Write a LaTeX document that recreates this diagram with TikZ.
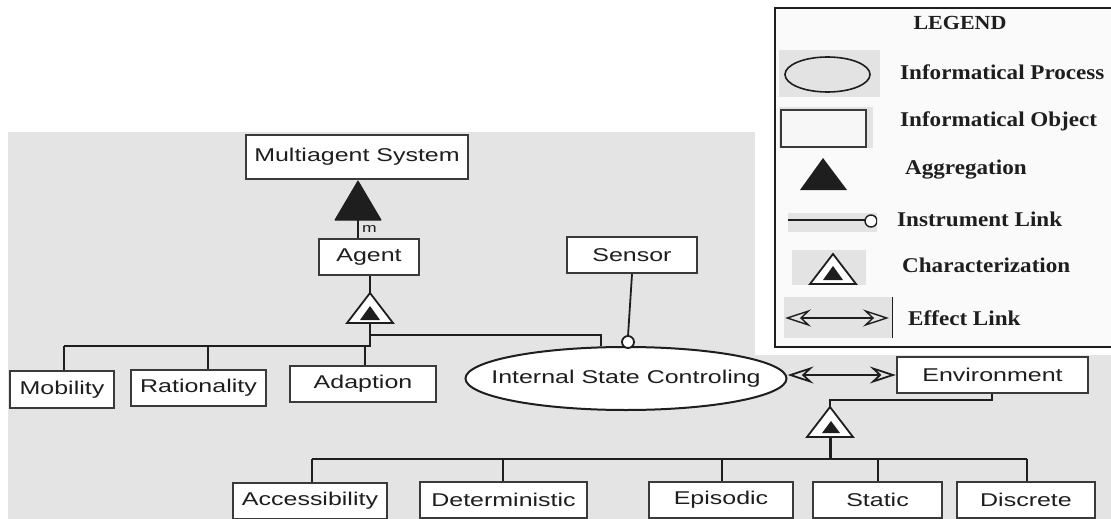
\documentclass[tikz,border=0pt]{standalone}
\usepackage{fontspec}
\usetikzlibrary{shapes.geometric,arrows.meta,calc}
\newfontfamily\mainf[FakeStretch=1.35]{Liberation Sans}
\newfontfamily\legf[FakeStretch=1.1]{Liberation Serif}
\definecolor{panel}{HTML}{E4E4E4}
\definecolor{lbg}{HTML}{E3E3E3}
\definecolor{ink}{HTML}{1E1E1E}
\definecolor{edgec}{HTML}{3A3A3A}
\begin{document}
\begin{tikzpicture}[x=1pt,y=-1pt,
  obj/.style={draw=edgec,line width=2.4pt,fill=white,inner sep=0pt,minimum height=36pt,
    font=\mainf\fontsize{18.5}{20}\selectfont,text=ink},
  proc/.style={ellipse,draw=ink,line width=2pt,fill=white,inner sep=0pt},
  proctext/.style={font=\mainf\fontsize{18.5}{20}\selectfont,text=ink,inner sep=0pt},
  link/.style={draw=ink,line width=1.8pt},
  aggr/.style={fill=ink,draw=ink,line width=1pt,line join=round},
  charo/.style={fill=white,draw=ink,line width=1.8pt,line join=miter},
  legtext/.style={anchor=west,font=\legf\bfseries\fontsize{21}{23}\selectfont,text=ink,inner sep=0pt},
  effect/.style={draw=ink,line width=1.8pt,{Stealth[open,length=26pt,width=17pt,inset=9pt]}-{Stealth[open,length=26pt,width=17pt,inset=9pt]}}
]
\useasboundingbox (0,0) rectangle (1111,519);
% background panel
\fill[panel] (8,132) rectangle (1111,519);
\fill[white] (755,0) rectangle (1111,355);

% ---------------- objects
\node[obj,minimum width=222pt,minimum height=44pt] (mas) at (357,157) {Multiagent System};
\node[obj,minimum width=100pt] (agent) at (369,257) {Agent};
\node[obj,minimum width=130pt] (sensor) at (632,255) {Sensor};
\node[obj,minimum width=104pt,minimum height=37pt] (mob) at (62,389.5) {Mobility};
\node[obj,minimum width=135pt] (rat) at (198.5,388) {Rationality};
\node[obj,minimum width=146pt] (adp) at (363,384) {Adaption};
\node[obj,minimum width=191pt] (env) at (992.5,375) {Environment};
\node[obj,minimum width=154pt] (acc) at (310,501) {Accessibility};
\node[obj,minimum width=167pt] (det) at (503.5,500) {Deterministic};
\node[obj,minimum width=144pt] (epi) at (721,500) {Episodic};
\node[obj,minimum width=129pt] (sta) at (877.5,500) {Static};
\node[obj,minimum width=138pt] (dis) at (1026,500) {Discrete};
\node[proc,minimum width=321pt,minimum height=63pt] (ell) at (626,378.5) {};
\node[proctext] (elltext) at (ell.center) {Internal State Controling};

% ---------------- aggregation: Multiagent System -- Agent
\coordinate (ag-top) at (358,181);
\coordinate (ag-base) at (358,220);
\draw[aggr] (ag-top) -- (335,220) -- (381,220) -- cycle;
\draw[link] (ag-base) -- (agent.north -| ag-base);
\node[font=\mainf\fontsize{13}{13}\selectfont,text=ink,anchor=west,inner sep=0pt] (mlab) at (362,229) {m};

% ---------------- characterization of Agent
\coordinate (c1-top) at (370,293);
\coordinate (c1-base) at (370,323);
\draw[link] (agent.south -| c1-top) -- (c1-top);
\draw[charo] (c1-top) -- (347,323) -- (393,323) -- cycle;
\fill[ink] (370,306) -- (360,320) -- (380,320) -- cycle;
\coordinate (j1) at (370,335);
\coordinate (j2) at (370,346);
\draw[link] (c1-base) -- (j1) -| ($(ell.north)+(-25,0)$);
\draw[link] (j1) -- (j2) -- (64,346);
\draw[link] (64,346) -- (mob.north -| 64,0);
\draw[link] (208,346) -- (rat.north -| 208,0);
\draw[link] (365,346) -- (adp.north -| 365,0);

% ---------------- instrument link Sensor -> process
\coordinate (ic) at (628,342);
\draw[link] (sensor.south) -- (628,336);
\draw[draw=ink,line width=1.8pt,fill=white] (ic) circle (6pt);

% ---------------- effect link
\draw[effect] (ell.east |- env.west) -- (env.west);

% ---------------- characterization of Environment
\coordinate (c2-top) at (830,407);
\coordinate (c2-base) at (830,437);
\draw[link] (env.south -| 992,0) -- (992,400) -| (c2-top);
\draw[charo] (c2-top) -- (807,437) -- (853,437) -- cycle;
\fill[ink] (831,421) -- (822,433) -- (840,433) -- cycle;
\coordinate (j3) at (830,459);
\draw[draw=ink,line width=3pt] (c2-base) -- (j3);
\draw[link] (312,459) -- (1027,459);
\draw[link] (312,459) -- (acc.north -| 312,0);
\draw[link] (503,459) -- (det.north -| 503,0);
\draw[link] (722,459) -- (epi.north -| 722,0);
\draw[link] (878,459) -- (sta.north -| 878,0);
\draw[link] (1027,459) -- (dis.north -| 1027,0);

% ---------------- legend
\draw[draw=ink,line width=1.4pt,fill=white!98!black] (775,8) rectangle (1113,347);
\node[font=\legf\bfseries\fontsize{20}{22}\selectfont,text=ink,inner sep=0pt] (lgt) at (960,23) {LEGEND};
% process
\fill[lbg] (779,50) rectangle (880,97);
\draw[draw=ink,line width=1.6pt] (827.5,74.5) ellipse (42.5pt and 17.5pt);
\node[legtext] (l1) at (900,72) {Informatical Process};
% object
\fill[lbg] (779,107) rectangle (873,148);
\draw[draw=edgec,line width=2.2pt,fill=white!97!black] (781,110) rectangle (866,147);
\node[legtext] (l2) at (900,121) {Informatical Object};
% aggregation
\fill[ink] (823,158) -- (800,190) -- (847,190) -- cycle;
\node[legtext] (l3) at (905,170) {Aggregation};
% instrument link
\fill[lbg] (788,213) rectangle (877,232);
\draw[draw=ink,line width=1.4pt] (788,220) -- (865,220);
\begin{scope}
\clip (788,205) rectangle (877,235);
\draw[draw=ink,line width=1.4pt,fill=white] (871,221) circle (6pt);
\end{scope}
\node[legtext] (l4) at (897,219) {Instrument Link};
% characterization
\fill[lbg] (792,250) rectangle (866,285);
\draw[draw=ink,line width=1.8pt,fill=white] (833,254) -- (810,284) -- (856,284) -- cycle;
\fill[ink] (833,266) -- (823,280) -- (843,280) -- cycle;
\node[legtext] (l5) at (902,265) {Characterization};
% effect link
\fill[lbg] (784,297) rectangle (892,338);
\draw[draw=ink,line width=1pt] (892,297) -- (892,338);
\draw[effect,line width=1.4pt] (785,318) -- (889,318);
\node[legtext] (l6) at (908,318) {Effect Link};
\end{tikzpicture}
\end{document}
